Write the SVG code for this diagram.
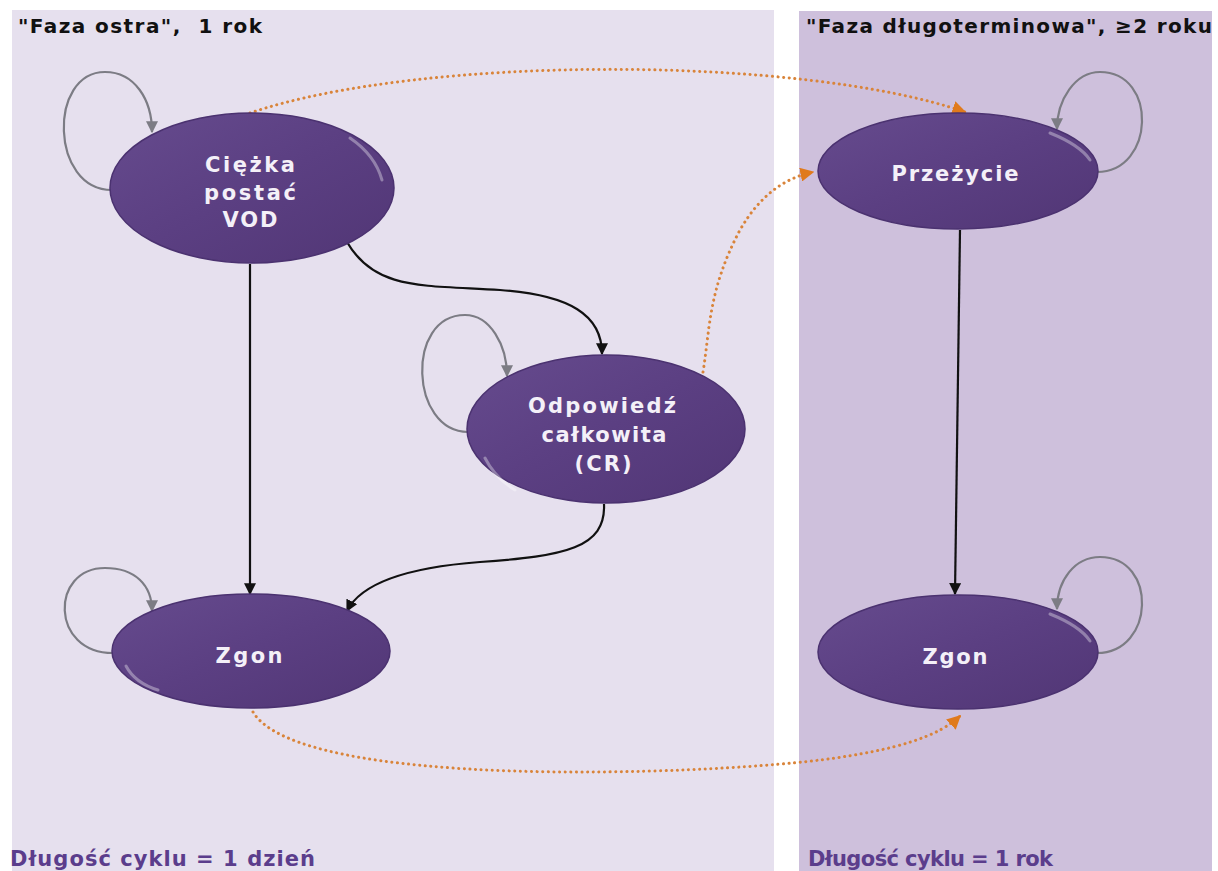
<svg xmlns="http://www.w3.org/2000/svg" width="1218" height="871" viewBox="0 0 1218 871">
<style>
.hdr{font-family:"DejaVu Sans",Verdana,sans-serif;font-weight:bold;font-size:20px;fill:#111}
.ftr{font-family:"DejaVu Sans",Verdana,sans-serif;font-weight:bold;font-size:21px;fill:#5b3d8c}
.lbl{font-family:"DejaVu Sans",Verdana,sans-serif;font-weight:bold;font-size:21px;fill:#f4f0f8;text-anchor:middle}
.node{fill:url(#g);stroke:#4b3270;stroke-width:1.5}
.shine{fill:none;stroke:#ffffff;stroke-opacity:0.35;stroke-width:3;stroke-linecap:round}
.loop{fill:none;stroke:#7c7c84;stroke-width:2.2}
.blk{fill:none;stroke:#111;stroke-width:2.2}
.org{fill:none;stroke:#d9843a;stroke-width:3;stroke-dasharray:0.1 5.5;stroke-linecap:round}
</style>
<defs>
<linearGradient id="g" x1="0" y1="0" x2="1" y2="1">
<stop offset="0" stop-color="#664b8e"/>
<stop offset="0.5" stop-color="#5b3f82"/>
<stop offset="1" stop-color="#513675"/>
</linearGradient>
<marker id="ag" viewBox="0 0 10 10" refX="9" refY="5" markerWidth="12" markerHeight="12" orient="auto" markerUnits="userSpaceOnUse">
<path d="M0,0 L10,5 L0,10 z" fill="#7c7c84"/>
</marker>
<marker id="ab" viewBox="0 0 10 10" refX="9" refY="5" markerWidth="12" markerHeight="12" orient="auto" markerUnits="userSpaceOnUse">
<path d="M0,0 L10,5 L0,10 z" fill="#111"/>
</marker>
<marker id="ao" viewBox="0 0 10 10" refX="9" refY="5" markerWidth="14" markerHeight="14" orient="auto" markerUnits="userSpaceOnUse">
<path d="M0,0 L10,5 L0,10 z" fill="#e07a1c"/>
</marker>
</defs>
<rect x="0" y="0" width="1218" height="871" fill="#ffffff"/>
<rect x="12" y="10" width="762" height="861" fill="#e6e0ee"/>
<rect x="799" y="11" width="413" height="860" fill="#cec0dc"/>
<g id="headers">
<text class="hdr" x="18" y="33" textLength="244" lengthAdjust="spacing" xml:space="preserve">"Faza ostra",  1 rok</text>
<text class="hdr" x="806" y="33" textLength="406" lengthAdjust="spacing">"Faza długoterminowa", ≥2 roku</text>
<text class="ftr" x="10" y="866" textLength="305" lengthAdjust="spacing">Długość cyklu = 1 dzień</text>
<text class="ftr" x="808" y="866" textLength="245" lengthAdjust="spacing">Długość cyklu = 1 rok</text>
</g>
<g id="connectors">
<path class="loop" marker-end="url(#ag)" d="M112 190 C50 190 48 72 105 72 C135 72 152 100 152 132"/>
<path class="loop" marker-end="url(#ag)" d="M468 432 C410 432 405 315 465 315 C490 315 507 345 507 376"/>
<path class="loop" marker-end="url(#ag)" d="M113 653 C50 653 50 568 105 568 C135 568 152 585 152 611"/>
<path class="loop" marker-end="url(#ag)" d="M1097 172 C1155 172 1158 72 1100 72 C1075 72 1057 100 1057 129"/>
<path class="loop" marker-end="url(#ag)" d="M1097 653 C1155 653 1158 557 1100 557 C1075 557 1057 580 1057 609"/>
<path class="blk" marker-end="url(#ab)" d="M250 264 L250 594"/>
<path class="blk" marker-end="url(#ab)" d="M347 242 C375 290 420 285 500 290 C570 295 602 315 602 354"/>
<path class="blk" marker-end="url(#ab)" d="M604 504 C606 548 565 556 480 562 C400 568 360 585 347 611"/>
<path class="blk" marker-end="url(#ab)" d="M960 230 L955 594"/>
<path class="org" marker-end="url(#ao)" d="M250 113 C420 55 800 55 965 112"/>
<path class="org" marker-end="url(#ao)" d="M703 372 C710 330 708 290 740 230 C760 195 785 178 813 172"/>
<path class="org" marker-end="url(#ao)" d="M253 712 C300 790 700 775 820 760 C900 750 940 735 960 716"/>
</g>
<g id="node-vod">
<ellipse class="node" cx="252" cy="188" rx="142" ry="75"/>
<path class="shine" d="M350 138 Q375 155 382 180"/>
<text class="lbl" x="250" y="172" textLength="90" lengthAdjust="spacing">Ciężka</text>
<text class="lbl" x="250" y="200" textLength="92" lengthAdjust="spacing">postać</text>
<text class="lbl" x="250" y="227" textLength="55" lengthAdjust="spacing">VOD</text>
</g>
<g id="node-cr">
<ellipse class="node" cx="606" cy="429" rx="139" ry="74"/>
<path class="shine" d="M485 458 Q495 478 515 490"/>
<text class="lbl" x="602" y="413" textLength="148" lengthAdjust="spacing">Odpowiedź</text>
<text class="lbl" x="604" y="442" textLength="125" lengthAdjust="spacing">całkowita</text>
<text class="lbl" x="603" y="471" textLength="57" lengthAdjust="spacing">(CR)</text>
</g>
<g id="node-zgon1">
<ellipse class="node" cx="251" cy="651" rx="139" ry="57"/>
<path class="shine" d="M126 666 Q135 683 158 690"/>
<text class="lbl" x="249" y="663" textLength="67" lengthAdjust="spacing">Zgon</text>
</g>
<g id="node-przezycie">
<ellipse class="node" cx="958" cy="171" rx="140" ry="58"/>
<path class="shine" d="M1050 133 Q1080 145 1090 160"/>
<text class="lbl" x="955" y="181" textLength="127" lengthAdjust="spacing">Przeżycie</text>
</g>
<g id="node-zgon2">
<ellipse class="node" cx="958" cy="652" rx="140" ry="57"/>
<path class="shine" d="M1050 614 Q1080 626 1090 641"/>
<text class="lbl" x="955" y="664" textLength="65" lengthAdjust="spacing">Zgon</text>
</g>
</svg>
